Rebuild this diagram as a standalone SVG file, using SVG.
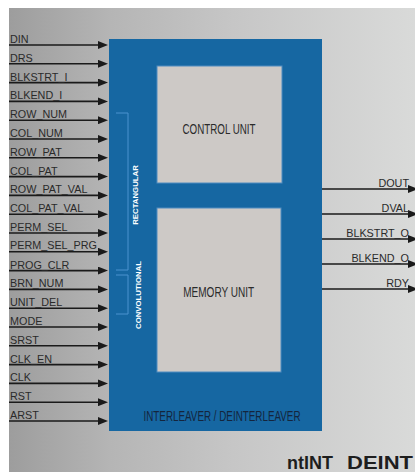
<svg xmlns="http://www.w3.org/2000/svg" width="415" height="472" viewBox="0 0 415 472">
  <defs>
    <linearGradient id="bg" x1="0" y1="0" x2="1" y2="0">
      <stop offset="0" stop-color="#9d9d9d"/>
      <stop offset="0.25" stop-color="#b5b5b5"/>
      <stop offset="0.55" stop-color="#c6c6c6"/>
      <stop offset="1" stop-color="#d9dad9"/>
    </linearGradient>
    <marker id="ah" markerWidth="10" markerHeight="8" refX="2" refY="4" orient="auto" markerUnits="userSpaceOnUse">
      <path d="M0,0 L10,4 L0,8 z" fill="#1a1a1a"/>
    </marker>
    <style>
      .wire { stroke: #1a1a1a; stroke-width: 1.6; fill: none; }
      .lbl { font-family: "Liberation Sans", Arial, sans-serif; font-size: 10.8px; fill: #2a2a2a; }
      .unit { fill: #cdc9c6; stroke: #4f8cc0; stroke-width: 1; }
      .utext { font-family: "Liberation Sans", Arial, sans-serif; font-size: 15px; fill: #2b2b2b; text-anchor: middle; }
      .vtext { font-family: "Liberation Sans", Arial, sans-serif; font-size: 7.8px; font-weight: bold; fill: #ffffff; text-anchor: middle; }
      .brk { stroke: #4a93cf; stroke-width: 1; fill: none; }
      .title { font-family: "Liberation Sans", Arial, sans-serif; font-size: 18px; font-weight: bold; fill: #1e1e1e; }
    </style>
  </defs>

  <rect x="0" y="0" width="415" height="472" fill="#ffffff"/>
  <rect x="9" y="8" width="406" height="464" fill="url(#bg)"/>

  <g id="interleaver">
    <rect x="109" y="39" width="213" height="392" fill="#1667a2"/>
    <text x="222" y="420.5" font-family="Liberation Sans, Arial, sans-serif" font-size="15" fill="#14253d" text-anchor="middle" textLength="157" lengthAdjust="spacingAndGlyphs">INTERLEAVER / DEINTERLEAVER</text>
  </g>

  <g id="control-unit">
    <rect class="unit" x="157" y="66" width="125" height="117"/>
    <text class="utext" x="219" y="134" textLength="73" lengthAdjust="spacingAndGlyphs">CONTROL UNIT</text>
  </g>

  <g id="memory-unit">
    <rect class="unit" x="157" y="208" width="124" height="164"/>
    <text class="utext" x="218.7" y="296.5" textLength="71" lengthAdjust="spacingAndGlyphs">MEMORY UNIT</text>
  </g>

  <g id="rectangular">
    <path class="brk" d="M116,113 H128 V270 H116"/>
    <text class="vtext" transform="translate(138.3,195) rotate(-90)" x="0" y="0">RECTANGULAR</text>
  </g>

  <g id="convolutional">
    <path class="brk" d="M116,275 H128 V314 H116"/>
    <text class="vtext" transform="translate(140.5,295) rotate(-90)" x="0" y="0">CONVOLUTIONAL</text>
  </g>

  <g id="connectors">
    <line class="wire" x1="9" y1="45" x2="100" y2="45" marker-end="url(#ah)"/>
    <line class="wire" x1="9" y1="63.8" x2="100" y2="63.8" marker-end="url(#ah)"/>
    <line class="wire" x1="9" y1="82.6" x2="100" y2="82.6" marker-end="url(#ah)"/>
    <line class="wire" x1="9" y1="101.4" x2="100" y2="101.4" marker-end="url(#ah)"/>
    <line class="wire" x1="9" y1="120.2" x2="100" y2="120.2" marker-end="url(#ah)"/>
    <line class="wire" x1="9" y1="139" x2="100" y2="139" marker-end="url(#ah)"/>
    <line class="wire" x1="9" y1="157.8" x2="100" y2="157.8" marker-end="url(#ah)"/>
    <line class="wire" x1="9" y1="176.6" x2="100" y2="176.6" marker-end="url(#ah)"/>
    <line class="wire" x1="9" y1="195.4" x2="100" y2="195.4" marker-end="url(#ah)"/>
    <line class="wire" x1="9" y1="214.2" x2="100" y2="214.2" marker-end="url(#ah)"/>
    <line class="wire" x1="9" y1="233" x2="100" y2="233" marker-end="url(#ah)"/>
    <line class="wire" x1="9" y1="251.8" x2="100" y2="251.8" marker-end="url(#ah)"/>
    <line class="wire" x1="9" y1="270.6" x2="100" y2="270.6" marker-end="url(#ah)"/>
    <line class="wire" x1="9" y1="289.4" x2="100" y2="289.4" marker-end="url(#ah)"/>
    <line class="wire" x1="9" y1="308.2" x2="100" y2="308.2" marker-end="url(#ah)"/>
    <line class="wire" x1="9" y1="327" x2="100" y2="327" marker-end="url(#ah)"/>
    <line class="wire" x1="9" y1="345.8" x2="100" y2="345.8" marker-end="url(#ah)"/>
    <line class="wire" x1="9" y1="364.6" x2="100" y2="364.6" marker-end="url(#ah)"/>
    <line class="wire" x1="9" y1="383.4" x2="100" y2="383.4" marker-end="url(#ah)"/>
    <line class="wire" x1="9" y1="402.2" x2="100" y2="402.2" marker-end="url(#ah)"/>
    <line class="wire" x1="9" y1="421" x2="100" y2="421" marker-end="url(#ah)"/>

    <line class="wire" x1="322" y1="189" x2="410" y2="189" marker-end="url(#ah)"/>
    <line class="wire" x1="322" y1="214" x2="410" y2="214" marker-end="url(#ah)"/>
    <line class="wire" x1="322" y1="239" x2="410" y2="239" marker-end="url(#ah)"/>
    <line class="wire" x1="322" y1="264" x2="410" y2="264" marker-end="url(#ah)"/>
    <line class="wire" x1="322" y1="289" x2="410" y2="289" marker-end="url(#ah)"/>
  </g>

  <g id="input-labels">
    <text class="lbl" x="10" y="43">DIN</text>
    <text class="lbl" x="10" y="61.8">DRS</text>
    <text class="lbl" x="10" y="80.6">BLKSTRT_I</text>
    <text class="lbl" x="10" y="99.4">BLKEND_I</text>
    <text class="lbl" x="10" y="118.2">ROW_NUM</text>
    <text class="lbl" x="10" y="137">COL_NUM</text>
    <text class="lbl" x="10" y="155.8">ROW_PAT</text>
    <text class="lbl" x="10" y="174.6">COL_PAT</text>
    <text class="lbl" x="10" y="193.4">ROW_PAT_VAL</text>
    <text class="lbl" x="10" y="212.2">COL_PAT_VAL</text>
    <text class="lbl" x="10" y="231">PERM_SEL</text>
    <text class="lbl" x="10" y="249.3">PERM_SEL_PRG</text>
    <text class="lbl" x="10" y="268.6">PROG_CLR</text>
    <text class="lbl" x="10" y="287.4">BRN_NUM</text>
    <text class="lbl" x="10" y="306.2">UNIT_DEL</text>
    <text class="lbl" x="10" y="325">MODE</text>
    <text class="lbl" x="10" y="343.8">SRST</text>
    <text class="lbl" x="10" y="362.6">CLK_EN</text>
    <text class="lbl" x="10" y="381.4">CLK</text>
    <text class="lbl" x="10" y="400.2">RST</text>
    <text class="lbl" x="10" y="419">ARST</text>
  </g>

  <g id="output-labels">
    <text class="lbl" x="409" y="187" text-anchor="end">DOUT</text>
    <text class="lbl" x="409" y="212" text-anchor="end">DVAL</text>
    <text class="lbl" x="409" y="237" text-anchor="end">BLKSTRT_O</text>
    <text class="lbl" x="409" y="262" text-anchor="end">BLKEND_O</text>
    <text class="lbl" x="409" y="287" text-anchor="end">RDY</text>
  </g>

  <g id="title">
    <text class="title" x="287" y="469" textLength="46" lengthAdjust="spacingAndGlyphs">ntINT</text>
    <text class="title" x="347" y="469" textLength="66" lengthAdjust="spacingAndGlyphs">DEINT</text>
  </g>
</svg>
